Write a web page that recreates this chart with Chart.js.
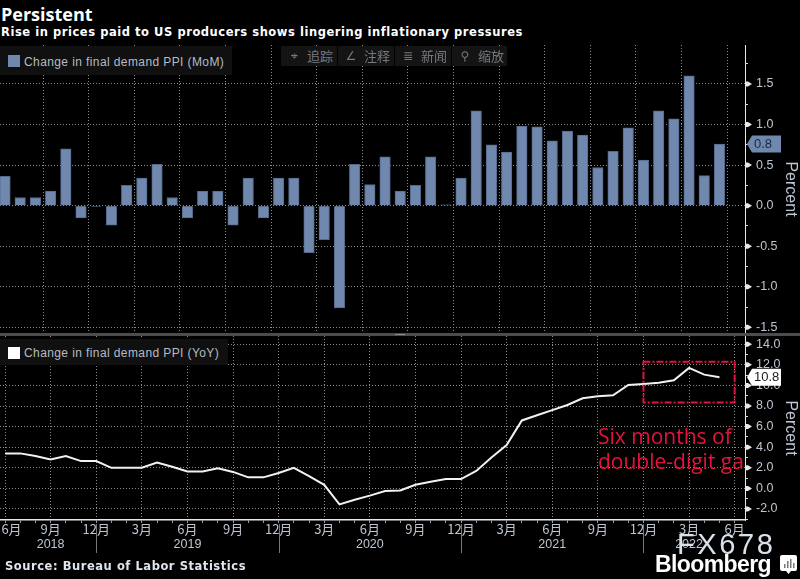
<!DOCTYPE html>
<html>
<head>
<meta charset="utf-8">
<script src="https://cdn.jsdelivr.net/npm/chart.js@4"></script>
<style>
  html, body { margin: 0; padding: 0; background: #000; }
  #page { position: relative; width: 800px; height: 579px; overflow: hidden; background: #000; font-family: "DejaVu Sans", sans-serif; }
  #page > * { position: absolute; }
  canvas { display: block; }
  .title { left: 1px; top: 2px; color: #fff; font: bold 18px "Open Sans", sans-serif; }
  .subtitle { left: 1px; top: 25px; color: #fff; font: bold 11.5px "DejaVu Sans", sans-serif; letter-spacing: 0.55px; white-space: nowrap; }
  .source { left: 5px; top: 559px; color: #dfe6ee; font: bold 11.5px "DejaVu Sans", sans-serif; letter-spacing: 0.55px; white-space: nowrap; }
  .legend { left: 0; background: #101010; color: #b4bcc6; font: 12px "Liberation Sans", sans-serif; line-height: 18px; white-space: nowrap; letter-spacing: 0.4px; padding-left: 24px; box-sizing: border-box; }
  .legend i { position: absolute; left: 8px; width: 12px; height: 12px; }
  .tool { top: 46px; height: 20px; background: #141414; color: #747a80; font: 13px "Noto Sans CJK SC", sans-serif; line-height: 19px; white-space: nowrap; padding-left: 26px; box-sizing: border-box; }
  .tool b { position: absolute; left: 6px; top: 0; width: 14px; text-align: center; font: 12px "DejaVu Sans", sans-serif; line-height: 20px; }
  .divider { left: 0; top: 333px; width: 800px; height: 3px; background: #4c4c4c; }
  .grip { left: 395px; top: 334px; width: 10px; height: 1px; background: #8a8a8a; }
  .note { left: 598px; top: 424px; width: 147px; overflow: hidden; color: #e4133c; font: 21px/25px "Open Sans", sans-serif; white-space: nowrap; }
  .watermark { left: 677px; top: 528px; color: #d8e0ea; font: 29px "Liberation Sans", sans-serif; letter-spacing: 2.6px; }
  .logo { left: 655px; top: 551px; color: #fff; font: bold 23px "Liberation Sans", sans-serif; letter-spacing: -0.6px; }
  .mark { left: 780px; top: 555px; }
</style>
</head>
<body>
<div id="page">
  <canvas id="momChart" width="800" height="295" style="left:0;top:40px;width:800px;height:295px"></canvas>
  <canvas id="yoyChart" width="800" height="230" style="left:0;top:334px;width:800px;height:230px"></canvas>
  <div class="divider"></div>
  <div class="grip"></div>
  <div class="title">Persistent</div>
  <div class="subtitle">Rise in prices paid to US producers shows lingering inflationary pressures</div>
  <div class="legend" style="top:46px;width:232px;height:29px;padding-top:7px"><i style="top:9px;background:#7088ae"></i>Change in final demand PPI (MoM)</div>
  <div class="legend" style="top:339px;width:228px;height:26px;padding-top:5px"><i style="top:8px;background:#fff"></i>Change in final demand PPI (YoY)</div>
  <div class="tool" style="left:281px;width:56px"><b>⌖</b>追踪</div>
  <div class="tool" style="left:338px;width:56px"><b>∠</b>注释</div>
  <div class="tool" style="left:395px;width:56px"><b>≣</b>新闻</div>
  <div class="tool" style="left:452px;width:55px"><b>⚲</b>缩放</div>
  <div class="note">Six months of<br>double-digit gains</div>
  <div class="source">Source: Bureau of Labor Statistics</div>
  <div class="watermark">FX678</div>
  <div class="logo">Bloomberg</div>
  <svg class="mark" width="17" height="19" viewBox="0 0 17 19">
    <path d="M2 0h13a2 2 0 0 1 2 2v12a2 2 0 0 1-2 2h-4l-2.500 3-2.500-3h-4a2 2 0 0 1-2-2v-12a2 2 0 0 1 2-2z" fill="#fff"/>
    <path d="M4 9h1.500v4h-1.500zM7 6h1.500v7h-1.500zM10 4h1.500v9h-1.500zM13 8h1.500v5h-1.500z" fill="#777"/>
  </svg>
</div>
<script>
// months from Jun 2018 to May 2022, plus the Jun 2022 tick
const monthLabels = ['6月','7月','8月','9月','10月','11月','12月','1月','2月','3月','4月','5月',
  '6月','7月','8月','9月','10月','11月','12月','1月','2月','3月','4月','5月',
  '6月','7月','8月','9月','10月','11月','12月','1月','2月','3月','4月','5月',
  '6月','7月','8月','9月','10月','11月','12月','1月','2月','3月','4月','5月','6月'];

const momValues = [0.36,0.1,0.1,0.18,0.7,-0.15,-0.01,-0.24,0.25,0.34,0.51,0.1,
  -0.15,0.18,0.18,-0.24,0.34,-0.15,0.34,0.34,-0.58,-0.42,-1.26,0.51,
  0.26,0.6,0.18,0.25,0.6,0.01,0.34,1.17,0.75,0.66,0.98,0.97,
  0.8,0.92,0.87,0.47,0.67,0.96,0.56,1.17,1.07,1.6,0.37,0.76];

const yoyValues = [3.4,3.4,3.15,2.8,3.15,2.65,2.65,2.0,2.0,2.0,2.5,2.1,
  1.65,1.65,1.95,1.6,1.07,1.07,1.5,2.0,1.2,0.35,-1.55,-1.1,
  -0.7,-0.25,-0.2,0.35,0.65,0.9,0.9,1.7,3.0,4.2,6.6,7.1,
  7.6,8.1,8.75,8.95,9.05,10.05,10.15,10.25,10.5,11.7,11.05,10.8];

const momTicks = [-1.5,-1.25,-1,-0.75,-0.5,-0.25,0,0.25,0.5,0.75,1,1.25,1.5,1.75];
const yoyTicks = [-3,-2,-1,0,1,2,3,4,5,6,7,8,9,10,11,12,13,14];
const years = ['2018','2019','2020','2021','2022'];
const yearCentres = [3,12,24,36,45];
const yearBreaks = [6,18,30,42];
const boxRange = { xMin: 42, xMax: 48, yMin: 8.34, yMax: 12.3 };

const xMin = -0.33, xMax = 48.68;
const xTicks = monthLabels.map((m, i) => ({ value: i }));
const gridColor = '#8c8c8c';
const tickText = '#bcc6d2';
const font = { family: '"Liberation Sans", sans-serif', size: 12.5 };

function majorX(i) { return i % 3 === 0; }

function xScale(showLabels) {
  return {
    type: 'linear', min: xMin, max: xMax, offset: false,
    afterBuildTicks: s => { s.ticks = xTicks.map(t => ({ value: t.value })); },
    afterFit: s => { s.paddingLeft = 0; s.paddingRight = 0; if (showLabels) s.height = 22; },
    border: { display: showLabels, color: '#e8e8e8', width: 1.5, dash: [1, 2] },
    grid: {
      drawTicks: showLabels, tickLength: 3, tickColor: '#9a9a9a',
      color: c => (c.tick && majorX(c.tick.value) ? gridColor : 'transparent')
    },
    ticks: {
      display: showLabels, autoSkip: false, maxRotation: 0, minRotation: 0, padding: -2,
      color: tickText, font: { family: '"Noto Sans CJK SC", sans-serif', size: 13 },
      callback: v => {
        if (!majorX(v)) return '';
        return v === 0 ? '\u2003' + monthLabels[v] : monthLabels[v];
      }
    }
  };
}

function yScale(ticks, isMajor, fmt) {
  return {
    position: 'right',
    afterBuildTicks: s => { s.ticks = ticks.map(v => ({ value: v })); },
    afterFit: s => { s.width = 55; s.paddingTop = 0; s.paddingBottom = 0; },
    border: { color: '#e8e8e8', width: 1, dash: [1, 2] },
    grid: {
      tickLength: 3, tickColor: '#d8d8d8',
      color: c => (c.tick && isMajor(c.tick.value) ? gridColor : 'transparent')
    },
    ticks: {
      autoSkip: false, padding: 8, color: tickText, font: font,
      callback: v => (isMajor(v) ? fmt(v) : '')
    },
    title: { display: true, text: 'Percent', color: tickText, font: { family: '"Liberation Sans", sans-serif', size: 16 }, padding: 0 }
  };
}

// triangles on the major ticks and the last value tag
function axisMarks(isMajor, tagFill, tagText, lastValue) {
  return {
    id: 'axisMarks',
    afterDraw(chart) {
      const ctx = chart.ctx, y = chart.scales.y, x0 = y.left;
      ctx.save();
      ctx.fillStyle = '#e8e8e8';
      y.ticks.forEach(t => {
        if (!isMajor(t.value)) return;
        const py = y.getPixelForValue(t.value);
        ctx.beginPath();
        ctx.moveTo(x0, py - 2.5);
        ctx.lineTo(x0 + 3, py - 2.5);
        ctx.lineTo(x0 + 7, py);
        ctx.lineTo(x0 + 3, py + 2.5);
        ctx.lineTo(x0, py + 2.5);
        ctx.fill();
      });
      const py = y.getPixelForValue(lastValue);
      ctx.fillStyle = tagFill;
      ctx.beginPath();
      ctx.moveTo(x0 + 2, py);
      ctx.lineTo(x0 + 7, py - 8.5);
      ctx.lineTo(x0 + 36, py - 8.5);
      ctx.lineTo(x0 + 36, py + 8.5);
      ctx.lineTo(x0 + 7, py + 8.5);
      ctx.closePath();
      ctx.fill();
      ctx.fillStyle = tagText;
      ctx.font = '13px "Liberation Sans", sans-serif';
      ctx.textBaseline = 'middle';
      ctx.fillText(lastValue.toFixed(1), x0 + 9, py + 0.5);
      ctx.restore();
    }
  };
}

// year row under the axis and the red box
const yoyExtras = {
  id: 'yoyExtras',
  afterDraw(chart) {
    const ctx = chart.ctx, x = chart.scales.x, y = chart.scales.y, area = chart.chartArea;
    ctx.save();
    ctx.strokeStyle = '#777';
    ctx.lineWidth = 1;
    yearBreaks.forEach(b => {
      const px = Math.round(x.getPixelForValue(b)) + 0.5;
      ctx.beginPath();
      ctx.moveTo(px, area.bottom + 4);
      ctx.lineTo(px, area.bottom + 33);
      ctx.stroke();
    });
    ctx.fillStyle = tickText;
    ctx.font = '12.5px "Liberation Sans", sans-serif';
    ctx.textAlign = 'center';
    ctx.textBaseline = 'middle';
    years.forEach((label, i) => {
      ctx.fillText(label, x.getPixelForValue(yearCentres[i]), area.bottom + 25);
    });
    ctx.strokeStyle = '#e4133c';
    ctx.lineWidth = 2;
    ctx.setLineDash([7, 2, 2, 2]);
    const bx = x.getPixelForValue(boxRange.xMin), bw = x.getPixelForValue(boxRange.xMax) - bx;
    const by = y.getPixelForValue(boxRange.yMax), bh = y.getPixelForValue(boxRange.yMin) - by;
    ctx.strokeRect(bx, by, bw, bh);
    ctx.restore();
  }
};

new Chart(document.getElementById('momChart'), {
  type: 'bar',
  data: {
    datasets: [{
      data: momValues.map((v, i) => ({ x: i, y: v })),
      backgroundColor: '#7088ae',
      borderColor: '#54688a',
      borderWidth: 1,
      barThickness: 10.5
    }]
  },
  options: {
    responsive: false,
    animation: false,
    layout: { padding: { top: 5, bottom: 2 } },
    plugins: { legend: { display: false }, tooltip: { enabled: false } },
    scales: {
      x: xScale(false),
      y: Object.assign(yScale(momTicks, v => Math.abs(v * 2 % 1) === 0, v => v.toFixed(1)), { min: -1.57, max: 1.98 })
    }
  },
  plugins: [axisMarks(v => Math.abs(v * 2 % 1) === 0, '#7088ae', '#1c2838', momValues[momValues.length - 1])]
});

new Chart(document.getElementById('yoyChart'), {
  type: 'line',
  data: {
    datasets: [{
      data: yoyValues.map((v, i) => ({ x: i, y: v })),
      borderColor: '#f2f2f2',
      borderWidth: 2,
      pointRadius: 0,
      tension: 0
    }]
  },
  options: {
    responsive: false,
    animation: false,
    layout: { padding: { top: 2, bottom: 22 } },
    plugins: { legend: { display: false }, tooltip: { enabled: false } },
    scales: {
      x: xScale(true),
      y: Object.assign(yScale(yoyTicks, v => v % 2 === 0 && v > -3, v => v.toFixed(1)), { min: -3.07, max: 14.8 })
    }
  },
  plugins: [axisMarks(v => v % 2 === 0 && v > -3, '#ffffff', '#1a1a1a', yoyValues[yoyValues.length - 1]), yoyExtras]
});
</script>
</body>
</html>
